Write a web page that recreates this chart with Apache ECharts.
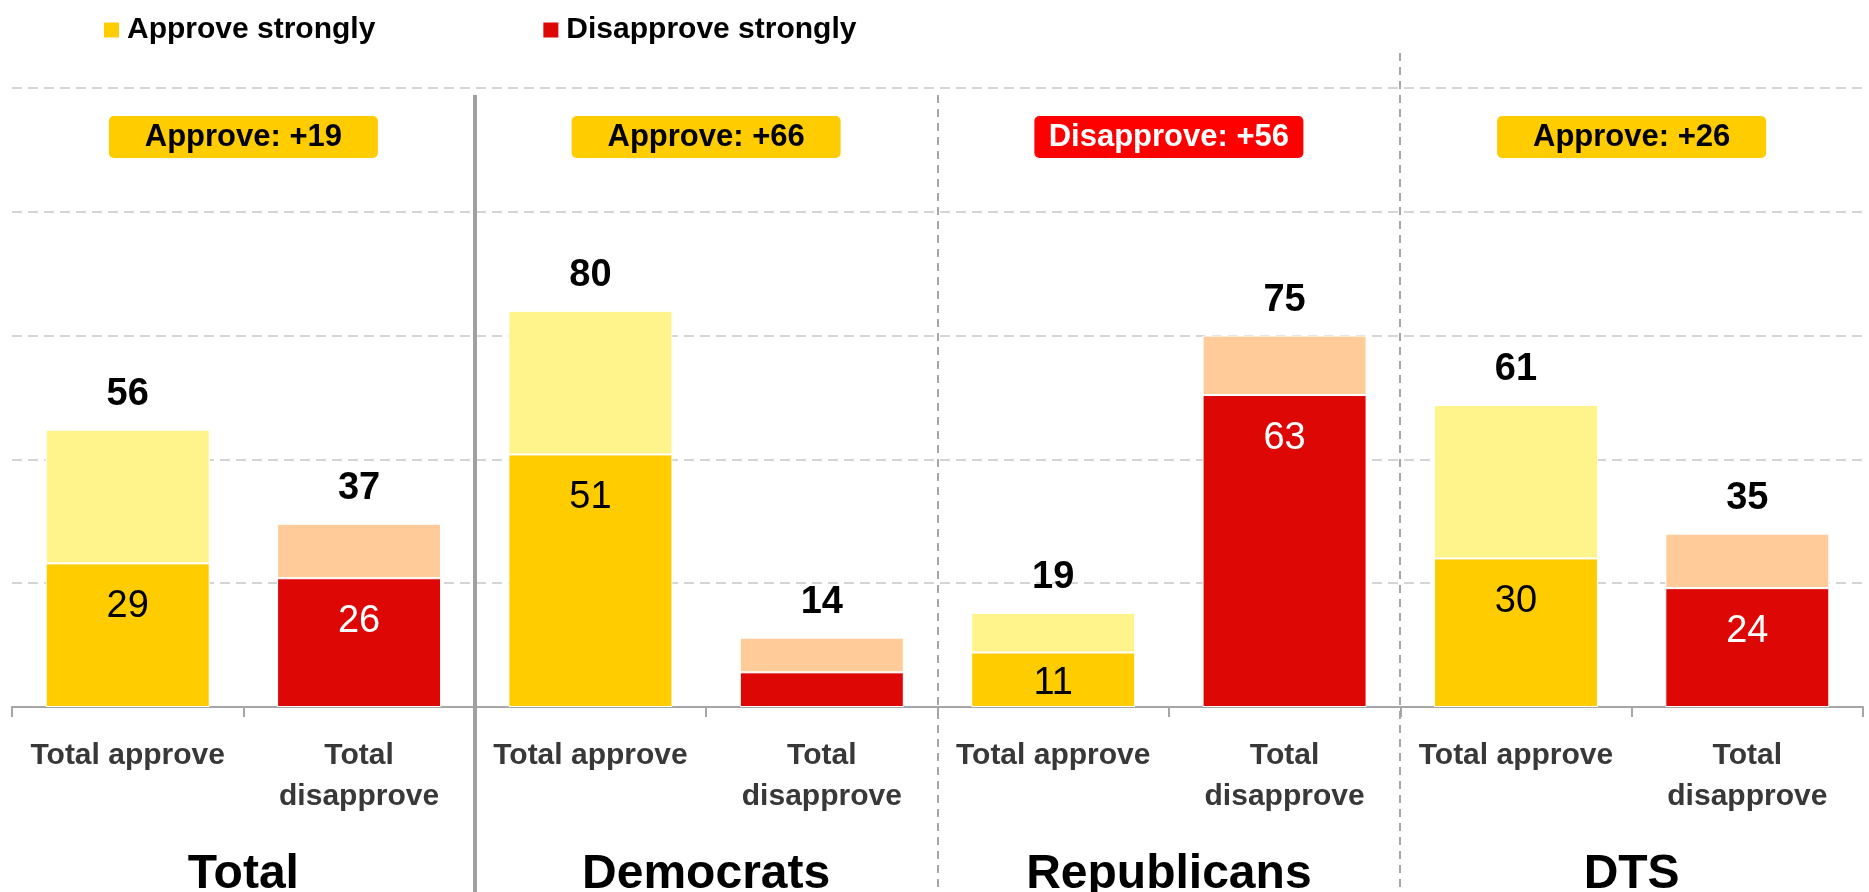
<!DOCTYPE html>
<html>
<head>
<meta charset="utf-8">
<script src="https://cdn.jsdelivr.net/npm/echarts@6/dist/echarts.min.js"></script>
<style>
  html, body { margin: 0; padding: 0; background: #ffffff; }
  #chart { width: 1869px; height: 892px; }
</style>
</head>
<body>
<div id="chart"></div>
<script>
// ---- Data ----
const groups = ['Total', 'Democrats', 'Republicans', 'DTS'];
const barLabels = ['Total approve', 'Total\ndisapprove'];
const totalApprove = [56, 80, 19, 61];
const approveStrongly = [29, 51, 11, 30];
const totalDisapprove = [37, 14, 75, 35];
const disapproveStrongly = [26, 7, 63, 24];
const yTicks = [0, 25, 50, 75, 100, 125];

// ---- Derived ----
const FONT = 'Liberation Sans, Arial, Helvetica, sans-serif';
const categories = [];
groups.forEach(() => { categories.push(barLabels[0], barLabels[1]); });

function strongItem(v) {
  if (v < 10) return { value: v, label: { show: false } };
  if (v < 15) return { value: v, label: { position: 'inside', offset: [0, 4] } };
  return { value: v };
}

const apStrongData = [], apRestData = [], disStrongData = [], disRestData = [];
const totalsByCat = [];
groups.forEach((g, i) => {
  apStrongData.push(strongItem(approveStrongly[i]));
  apStrongData.push('-');
  apRestData.push(totalApprove[i] - approveStrongly[i]);
  apRestData.push('-');
  disStrongData.push('-');
  disStrongData.push(strongItem(disapproveStrongly[i]));
  disRestData.push('-');
  disRestData.push(totalDisapprove[i] - disapproveStrongly[i]);
  totalsByCat.push(totalApprove[i], totalDisapprove[i]);
});
const margins = groups.map((g, i) => totalApprove[i] - totalDisapprove[i]);

const insideLabel = (color) => ({
  show: true,
  position: ['50%', 43],
  align: 'center',
  verticalAlign: 'middle',
  color: color,
  fontFamily: FONT,
  fontSize: 38,
  lineHeight: 38
});
const totalLabel = {
  show: true,
  position: 'top',
  distance: 16,
  color: '#000',
  fontFamily: FONT,
  fontWeight: 'bold',
  fontSize: 38,
  lineHeight: 38,
  formatter: (p) => String(totalsByCat[p.dataIndex])
};

const BAR_W = 164;
const border = { borderColor: '#ffffff', borderWidth: 1 };

const chart = echarts.init(document.getElementById('chart'), null, { renderer: 'canvas' });

const option = {
  animation: false,
  backgroundColor: '#ffffff',
  textStyle: { fontFamily: FONT },
  legend: {
    data: ['Approve strongly', 'Disapprove strongly'],
    left: 99,
    top: 10,
    icon: 'rect',
    itemWidth: 15,
    itemHeight: 15,
    itemGap: 168,
    selectedMode: false,
    itemStyle: { borderWidth: 0 },
    textStyle: {
      fontFamily: FONT, fontSize: 30, fontWeight: 'bold', color: '#000',
      lineHeight: 30, padding: [0, 0, 0, 3]
    }
  },
  grid: { left: 12, right: 6, top: 88, bottom: 185, containLabel: false, outerBoundsMode: 'none' },
  xAxis: [
    {
      type: 'category',
      data: categories,
      position: 'bottom',
      axisLine: { show: true, lineStyle: { color: '#A6A6A6', width: 2 } },
      axisTick: { show: true, length: 10, lineStyle: { color: '#A6A6A6', width: 2 } },
      axisLabel: {
        interval: 0,
        margin: 28,
        color: '#383838',
        fontFamily: FONT,
        fontWeight: 'bold',
        fontSize: 30,
        lineHeight: 41,
        align: 'center'
      },
      splitLine: { show: false }
    },
    {
      type: 'category',
      data: groups,
      position: 'bottom',
      axisLine: { show: false },
      axisTick: { show: false },
      axisLabel: {
        interval: 0,
        margin: 144,
        color: '#000',
        fontFamily: FONT,
        fontWeight: 'bold',
        fontSize: 48,
        lineHeight: 48
      },
      splitLine: { show: false }
    },
    {
      type: 'category',
      data: groups,
      position: 'top',
      axisLine: { show: false },
      axisTick: { show: false },
      axisLabel: {
        interval: 0,
        inside: true,
        margin: 28,
        formatter: (v, idx) => {
          const m = margins[idx];
          return m >= 0 ? '{a|Approve: +' + m + '}' : '{d|Disapprove: +' + (-m) + '}';
        },
        rich: {
          a: {
            backgroundColor: '#FFCC00', color: '#000', width: 269, height: 42, lineHeight: 42,
            align: 'center', borderRadius: 5, fontSize: 31, fontWeight: 'bold', fontFamily: FONT
          },
          d: {
            backgroundColor: '#FF0000', color: '#fff', width: 269, height: 42, lineHeight: 42,
            align: 'center', borderRadius: 5, fontSize: 31, fontWeight: 'bold', fontFamily: FONT
          }
        }
      },
      splitLine: { show: false }
    }
  ],
  yAxis: {
    type: 'value',
    min: yTicks[0],
    max: yTicks[yTicks.length - 1],
    interval: yTicks[1] - yTicks[0],
    axisLine: { show: false },
    axisTick: { show: false },
    axisLabel: { show: false },
    splitLine: { show: true, lineStyle: { color: '#C8C8C8', width: 1.5, type: [10, 6] } }
  },
  series: [
    {
      name: 'Approve strongly', type: 'bar', stack: 'all', xAxisIndex: 0, barWidth: BAR_W,
      itemStyle: Object.assign({ color: '#FFCC00' }, border),
      label: insideLabel('#000'),
      data: apStrongData
    },
    {
      name: 'Disapprove strongly', type: 'bar', stack: 'all', xAxisIndex: 0, barWidth: BAR_W,
      itemStyle: Object.assign({ color: '#DD0806' }, border),
      label: insideLabel('#fff'),
      data: disStrongData
    },
    {
      name: 'Approve somewhat', type: 'bar', stack: 'all', xAxisIndex: 0, barWidth: BAR_W,
      itemStyle: Object.assign({ color: '#FFF38B' }, border),
      label: totalLabel,
      data: apRestData
    },
    {
      name: 'Disapprove somewhat', type: 'bar', stack: 'all', xAxisIndex: 0, barWidth: BAR_W,
      itemStyle: Object.assign({ color: '#FFCC99' }, border),
      label: totalLabel,
      data: disRestData
    }
  ]
};

chart.setOption(option);

// Group separators, placed from the axes' own scales
function drawSeparators() {
  const px = (i) => chart.convertToPixel({ xAxisIndex: 1 }, groups[i]);
  const yTop = chart.convertToPixel({ yAxisIndex: 0 }, yTicks[yTicks.length - 1]);
  const H = chart.getHeight();
  const elements = [];
  for (let j = 0; j < groups.length - 1; j++) {
    const x = Math.round((px(j) + px(j + 1)) / 2);
    const solid = j === 0;
    const y1 = j === groups.length - 2 ? yTop - 35 : yTop + 7;
    elements.push({
      type: 'line',
      silent: true,
      z: 10,
      shape: { x1: x, y1: y1, x2: x, y2: H },
      style: solid
        ? { stroke: '#A0A0A0', lineWidth: 4 }
        : { stroke: '#A6A6A6', lineWidth: 2, lineDash: [8, 6] }
    });
  }
  chart.setOption({ graphic: elements });
}
drawSeparators();
</script>
</body>
</html>
